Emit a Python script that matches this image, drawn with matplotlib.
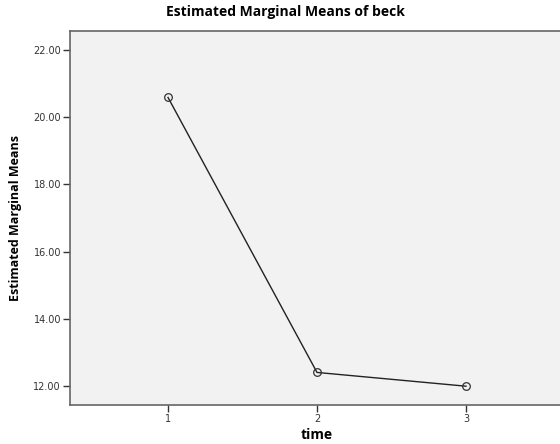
import matplotlib.pyplot as plt

# data
time_points = [1, 2, 3]
mean_values = [20.59, 12.40, 11.99]
y_ticks = [12, 14, 16, 18, 20, 22]

fig = plt.figure(figsize=(5.6, 4.44), dpi=100)
W, H = 560, 444
# axes box in pixels: left 70, right 564 (slightly past the image), top 31, bottom 405
ax = fig.add_axes([70 / W, 1 - 405 / H, (564 - 70) / W, (405 - 31) / H])
ax.set_facecolor('#f2f2f2')

ax.plot(time_points, mean_values, color='#222222', linewidth=1.0,
        marker='o', markersize=5.5, markerfacecolor='none',
        markeredgecolor='#333333', markeredgewidth=0.9)

ax.set_xlim(0.342, 3.658)
ax.set_ylim(11.43, 22.57)
ax.set_xticks(time_points)
ax.set_xticklabels([str(t) for t in time_points])
ax.set_yticks(y_ticks)
ax.set_yticklabels([f'{v:.2f}' for v in y_ticks])

for side in ['left', 'bottom', 'top', 'right']:
    ax.spines[side].set_color('#666666')
    ax.spines[side].set_linewidth(1.2)

ax.tick_params(axis='both', direction='out', length=5, width=1.0,
               color='#333333', labelsize=7, labelcolor='#333333', pad=1.5)

ax.set_xlabel('time', fontsize=10, fontweight='bold', family='Open Sans', labelpad=3)
ax.set_ylabel('Estimated Marginal Means', fontsize=9, fontweight='bold',
              family='Open Sans', labelpad=8)

fig.text(0.51, 1 - 12 / H, 'Estimated Marginal Means of beck', ha='center', va='center',
         fontsize=10, fontweight='bold', family='Open Sans')

fig.savefig('out.png', dpi=100)
